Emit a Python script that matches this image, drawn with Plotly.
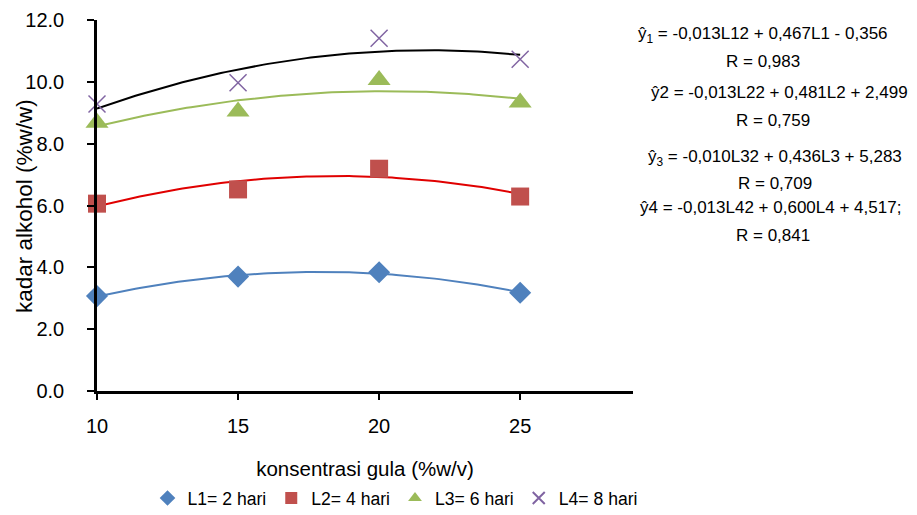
import numpy as np
import plotly.graph_objects as go

# Data
konsentrasi = [10, 15, 20, 25]
L1 = [3.07, 3.70, 3.84, 3.18]
L2 = [6.06, 6.52, 7.19, 6.29]
L3 = [8.68, 9.04, 10.06, 9.33]
L4 = [9.28, 9.97, 11.41, 10.73]
series_names = ["L1= 2 hari", "L2= 4 hari", "L3= 6 hari", "L4= 8 hari"]
y_ticks = [0, 2, 4, 6, 8, 10, 12]
x_ticks = [10, 15, 20, 25]
equations = [
    ("ŷ<sub>1</sub> = -0,013L12 + 0,467L1 - 0,356", "R = 0,983"),
    ("ŷ2 = -0,013L22 + 0,481L2 + 2,499;", "R = 0,759"),
    ("ŷ<sub>3</sub> = -0,010L32 + 0,436L3 + 5,283", "R = 0,709"),
    ("ŷ4 = -0,013L42 + 0,600L4 + 4,517;", "R = 0,841"),
]

FONT = "Liberation Sans, Arial, sans-serif"
marker_colors = ["#4F81BD", "#C0504D", "#9BBB59", "#8064A2"]
line_colors = ["#4F81BD", "#E00000", "#9BBB59", "#000000"]
symbols = ["diamond", "square", "triangle-up", "x-thin-open"]
sizes = [17, 18, 20, 17]

# page body has an 8px margin; lay out in reference pixel coordinates
OFF = 8
W, H = 917 - OFF, 515 - OFF
L, R, T, B = 97 - OFF, 633 - OFF, 20 - OFF, 391 - OFF

def px_x(x):
    return (x - OFF - L) / (R - L)

def px_y(y):
    return (B - (y - OFF)) / (B - T)

fig = go.Figure()
xs = np.linspace(min(konsentrasi), max(konsentrasi), 100)
all_series = [L1, L2, L3, L4]
for vals, lc in zip(all_series, line_colors):
    c = np.polyfit(konsentrasi, vals, 2)
    fig.add_trace(go.Scatter(x=xs, y=np.polyval(c, xs), mode="lines",
                             line=dict(color=lc, width=2), showlegend=False,
                             hoverinfo="skip"))
for vals, name, mc, sym, sz in zip(all_series, series_names, marker_colors, symbols, sizes):
    mk = dict(color=mc, symbol=sym, size=sz)
    if sym == "x-thin-open":
        mk["line"] = dict(color=mc, width=1.5)
    fig.add_trace(go.Scatter(x=konsentrasi, y=vals, mode="markers", name=name,
                             marker=mk, cliponaxis=False))

annotations = []
line_y = [35, 62, 92, 120, 158, 183, 208, 235]
line_x = [763, 763, 781, 773, 775, 775, 770, 773]
i = 0
for eq, r in equations:
    for txt in (eq, r):
        annotations.append(dict(text=txt, xref="paper", yref="paper",
                                x=px_x(line_x[i]), y=px_y(line_y[i]),
                                xanchor="center", yanchor="middle", showarrow=False,
                                font=dict(size=17, color="black", family=FONT)))
        i += 1
# y-axis title
annotations.append(dict(text="kadar alkohol (%w/w)", xref="paper", yref="paper",
                        x=px_x(24), y=px_y(206), textangle=-90, showarrow=False,
                        xanchor="center", yanchor="middle",
                        font=dict(size=22.5, color="black", family=FONT)))

fig.update_layout(
    width=W, height=H,
    margin=dict(l=L, r=W - R, t=T, b=H - B, autoexpand=False),
    paper_bgcolor="white", plot_bgcolor="white",
    font=dict(family=FONT, color="black"),
    showlegend=True,
    legend=dict(orientation="h", x=px_x(395), y=(H - (498 - OFF)) / H,
                xref="paper", yref="container",
                xanchor="center", yanchor="middle",
                font=dict(size=17.6, family=FONT), itemsizing="constant",
                tracegroupgap=0, itemwidth=30),
    annotations=annotations,
    xaxis=dict(range=[10, 29], tickvals=x_ticks, ticktext=[str(v) for v in x_ticks],
               showline=True, linecolor="black", linewidth=2.5, ticks="outside",
               ticklen=6, tickwidth=2, tickcolor="black", showgrid=False, zeroline=False,
               automargin=False, ticklabelstandoff=9,
               tickfont=dict(size=20), title=dict(text="konsentrasi gula (%w/v)",
                                                 font=dict(size=20.5), standoff=31)),
    yaxis=dict(range=[0, 12], tickvals=y_ticks, ticktext=[f"{v:.1f}" for v in y_ticks],
               showline=True, linecolor="black", linewidth=2.5, ticks="outside",
               ticklen=7, tickwidth=2, tickcolor="black", showgrid=False, zeroline=False,
               automargin=False, ticklabelstandoff=19,
               tickfont=dict(size=20)),
)

fig.write_html("out.html")
